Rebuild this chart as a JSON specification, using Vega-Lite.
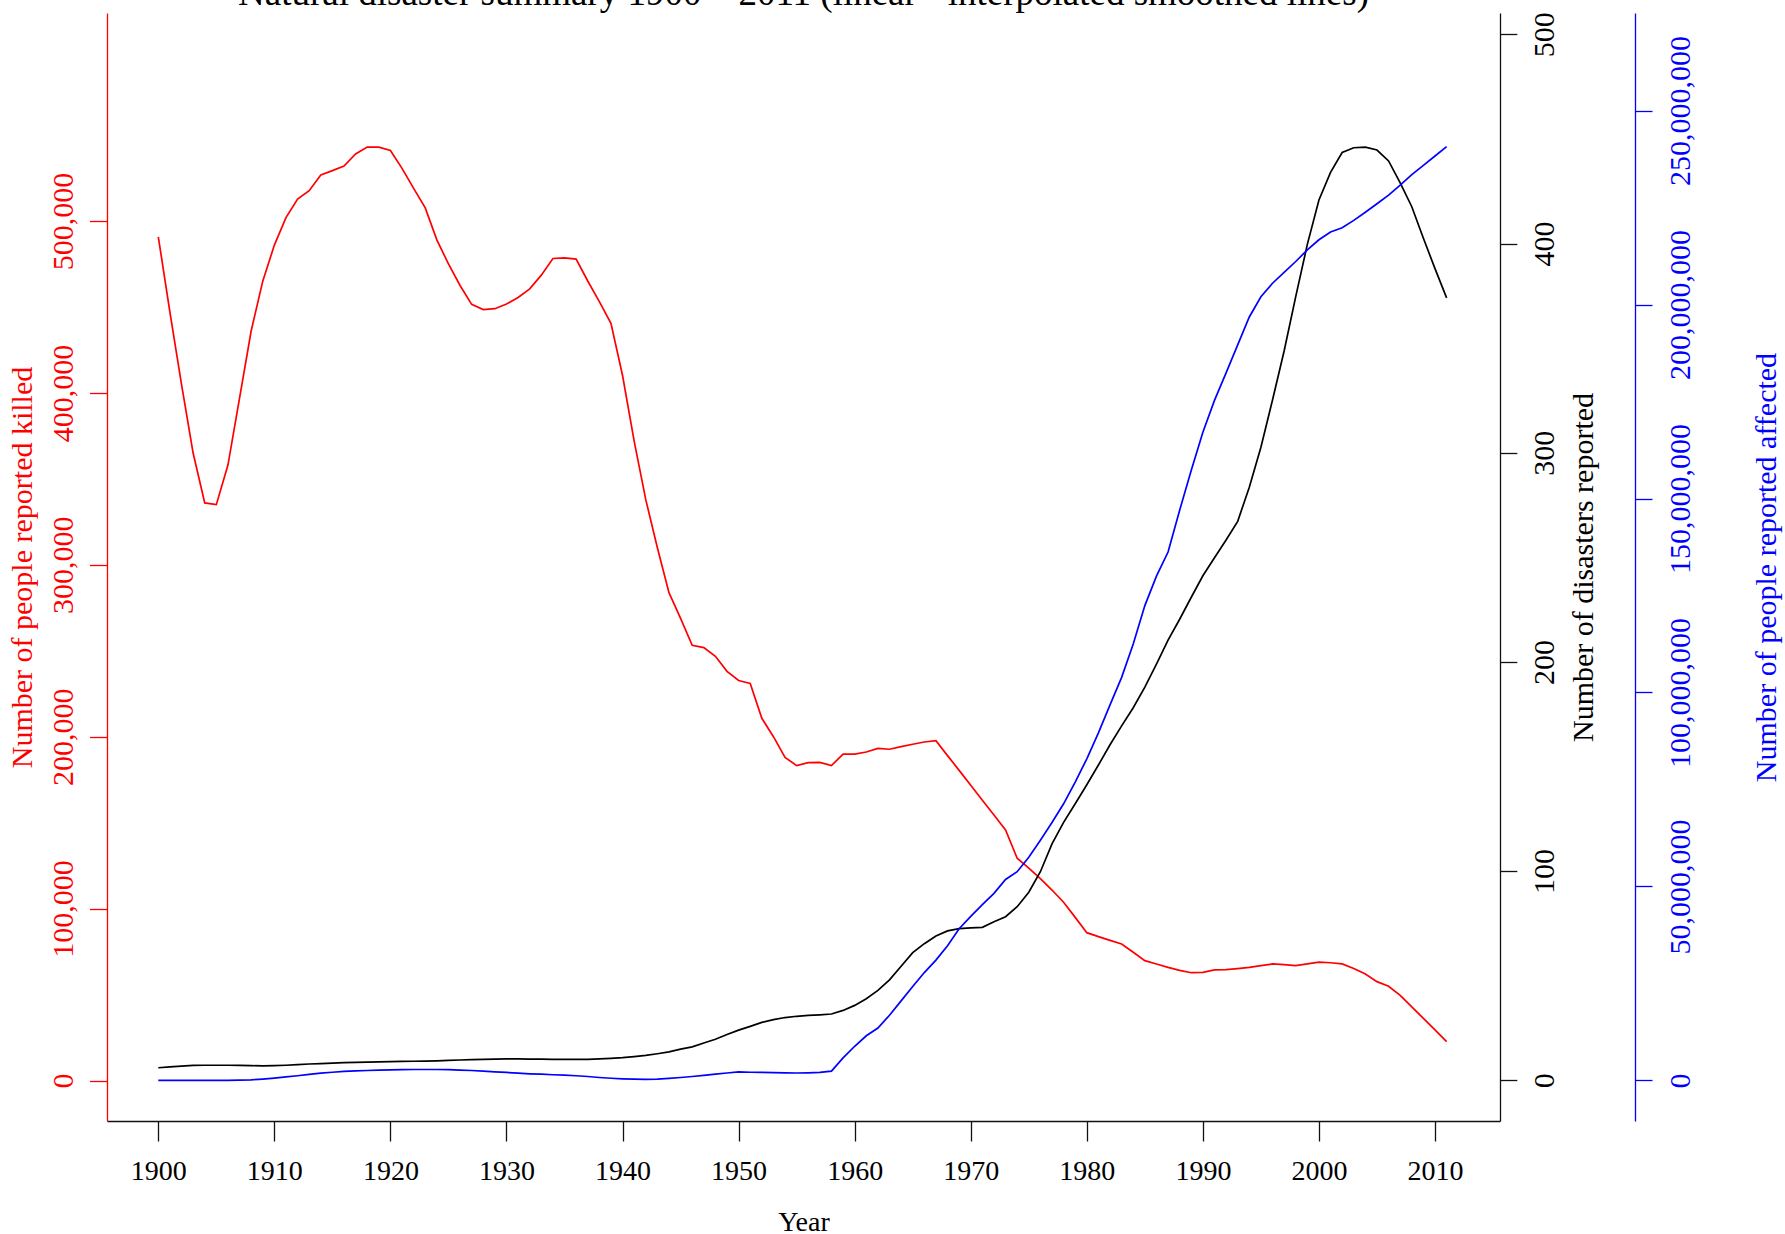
{
  "$schema": "https://vega.github.io/schema/vega-lite/v6.json",
  "width": 1393,
  "height": 1108,
  "autosize": {"type": "none"},
  "padding": {"left": 107, "top": 13, "right": 285, "bottom": 113},
  "background": "white",
  "config": {
    "view": {"stroke": null},
    "axis": {
      "grid": false,
      "labelFont": "Liberation Serif",
      "titleFont": "Liberation Serif",
      "titleFontWeight": "normal",
      "labelOverlap": false,
      "labelFlush": false,
      "labelBound": false,
      "domainWidth": 1.3,
      "tickWidth": 1.3
    }
  },
  "title": {
    "text": "Natural disaster summary 1900 – 2011 (linear - interpolated smoothed lines)",
    "font": "Liberation Serif",
    "fontSize": 37,
    "fontWeight": "normal",
    "color": "#000000",
    "anchor": "middle",
    "frame": "group",
    "orient": "top",
    "baseline": "alphabetic",
    "offset": -30
  },
  "data": {
    "values": [
      {"year": 1900, "killed": 490800, "disasters": 6.0, "affected": 0},
      {"year": 1901, "killed": 447000, "disasters": 6.4, "affected": 0},
      {"year": 1902, "killed": 405000, "disasters": 6.8, "affected": 0},
      {"year": 1903, "killed": 365000, "disasters": 7.1, "affected": 0},
      {"year": 1904, "killed": 336000, "disasters": 7.2, "affected": 0},
      {"year": 1905, "killed": 335000, "disasters": 7.2, "affected": 0},
      {"year": 1906, "killed": 358000, "disasters": 7.2, "affected": 0},
      {"year": 1907, "killed": 397000, "disasters": 7.1, "affected": 50000},
      {"year": 1908, "killed": 436000, "disasters": 7.0, "affected": 150000},
      {"year": 1909, "killed": 465000, "disasters": 6.9, "affected": 350000},
      {"year": 1910, "killed": 486000, "disasters": 7.0, "affected": 600000},
      {"year": 1911, "killed": 502000, "disasters": 7.2, "affected": 900000},
      {"year": 1912, "killed": 512800, "disasters": 7.5, "affected": 1200000},
      {"year": 1913, "killed": 517600, "disasters": 7.8, "affected": 1550000},
      {"year": 1914, "killed": 526800, "disasters": 8.0, "affected": 1850000},
      {"year": 1915, "killed": 529300, "disasters": 8.2, "affected": 2100000},
      {"year": 1916, "killed": 532000, "disasters": 8.4, "affected": 2300000},
      {"year": 1917, "killed": 539000, "disasters": 8.6, "affected": 2450000},
      {"year": 1918, "killed": 543000, "disasters": 8.7, "affected": 2550000},
      {"year": 1919, "killed": 543000, "disasters": 8.8, "affected": 2650000},
      {"year": 1920, "killed": 541000, "disasters": 8.9, "affected": 2700000},
      {"year": 1921, "killed": 530600, "disasters": 9.0, "affected": 2750000},
      {"year": 1922, "killed": 519000, "disasters": 9.1, "affected": 2800000},
      {"year": 1923, "killed": 507600, "disasters": 9.2, "affected": 2800000},
      {"year": 1924, "killed": 489000, "disasters": 9.3, "affected": 2800000},
      {"year": 1925, "killed": 475000, "disasters": 9.5, "affected": 2750000},
      {"year": 1926, "killed": 462500, "disasters": 9.7, "affected": 2650000},
      {"year": 1927, "killed": 451500, "disasters": 9.9, "affected": 2550000},
      {"year": 1928, "killed": 448500, "disasters": 10.0, "affected": 2400000},
      {"year": 1929, "killed": 449000, "disasters": 10.1, "affected": 2200000},
      {"year": 1930, "killed": 451700, "disasters": 10.2, "affected": 2050000},
      {"year": 1931, "killed": 455500, "disasters": 10.2, "affected": 1850000},
      {"year": 1932, "killed": 460500, "disasters": 10.1, "affected": 1700000},
      {"year": 1933, "killed": 468500, "disasters": 10.1, "affected": 1600000},
      {"year": 1934, "killed": 478200, "disasters": 10.0, "affected": 1450000},
      {"year": 1935, "killed": 478600, "disasters": 10.0, "affected": 1350000},
      {"year": 1936, "killed": 477800, "disasters": 10.0, "affected": 1200000},
      {"year": 1937, "killed": 465100, "disasters": 10.0, "affected": 1000000},
      {"year": 1938, "killed": 453100, "disasters": 10.2, "affected": 750000},
      {"year": 1939, "killed": 440500, "disasters": 10.5, "affected": 550000},
      {"year": 1940, "killed": 410100, "disasters": 10.8, "affected": 400000},
      {"year": 1941, "killed": 372000, "disasters": 11.3, "affected": 300000},
      {"year": 1942, "killed": 337900, "disasters": 11.9, "affected": 250000},
      {"year": 1943, "killed": 309900, "disasters": 12.7, "affected": 300000},
      {"year": 1944, "killed": 283800, "disasters": 13.6, "affected": 500000},
      {"year": 1945, "killed": 268800, "disasters": 14.9, "affected": 750000},
      {"year": 1946, "killed": 253200, "disasters": 16.0, "affected": 1000000},
      {"year": 1947, "killed": 251800, "disasters": 17.8, "affected": 1300000},
      {"year": 1948, "killed": 246800, "disasters": 19.6, "affected": 1600000},
      {"year": 1949, "killed": 238000, "disasters": 21.9, "affected": 1900000},
      {"year": 1950, "killed": 232700, "disasters": 24.0, "affected": 2170000},
      {"year": 1951, "killed": 231000, "disasters": 25.8, "affected": 2100000},
      {"year": 1952, "killed": 210700, "disasters": 27.7, "affected": 2050000},
      {"year": 1953, "killed": 200000, "disasters": 29.0, "affected": 2000000},
      {"year": 1954, "killed": 188000, "disasters": 30.0, "affected": 1950000},
      {"year": 1955, "killed": 183200, "disasters": 30.6, "affected": 1900000},
      {"year": 1956, "killed": 184900, "disasters": 31.0, "affected": 1950000},
      {"year": 1957, "killed": 185100, "disasters": 31.3, "affected": 2050000},
      {"year": 1958, "killed": 183200, "disasters": 31.7, "affected": 2400000},
      {"year": 1959, "killed": 189900, "disasters": 33.4, "affected": 5800000},
      {"year": 1960, "killed": 189900, "disasters": 35.8, "affected": 8800000},
      {"year": 1961, "killed": 191100, "disasters": 39.0, "affected": 11500000},
      {"year": 1962, "killed": 193200, "disasters": 43.0, "affected": 13500000},
      {"year": 1963, "killed": 192700, "disasters": 48.0, "affected": 16800000},
      {"year": 1964, "killed": 194200, "disasters": 54.5, "affected": 20500000},
      {"year": 1965, "killed": 195600, "disasters": 61.0, "affected": 24200000},
      {"year": 1966, "killed": 196900, "disasters": 65.3, "affected": 27800000},
      {"year": 1967, "killed": 197700, "disasters": 69.0, "affected": 31000000},
      {"year": 1968, "killed": 189000, "disasters": 71.4, "affected": 34700000},
      {"year": 1969, "killed": 180400, "disasters": 72.5, "affected": 39100000},
      {"year": 1970, "killed": 171700, "disasters": 72.9, "affected": 42300000},
      {"year": 1971, "killed": 163000, "disasters": 73.1, "affected": 45300000},
      {"year": 1972, "killed": 154400, "disasters": 75.8, "affected": 48200000},
      {"year": 1973, "killed": 145700, "disasters": 78.2, "affected": 51800000},
      {"year": 1974, "killed": 129300, "disasters": 83.0, "affected": 53800000},
      {"year": 1975, "killed": 123600, "disasters": 89.9, "affected": 57500000},
      {"year": 1976, "killed": 117400, "disasters": 99.7, "affected": 61900000},
      {"year": 1977, "killed": 110800, "disasters": 113.0, "affected": 66500000},
      {"year": 1978, "killed": 103700, "disasters": 123.3, "affected": 71300000},
      {"year": 1979, "killed": 94900, "disasters": 132.2, "affected": 76900000},
      {"year": 1980, "killed": 86000, "disasters": 141.3, "affected": 82900000},
      {"year": 1981, "killed": 83700, "disasters": 150.7, "affected": 89600000},
      {"year": 1982, "killed": 81500, "disasters": 160.4, "affected": 96800000},
      {"year": 1983, "killed": 79400, "disasters": 169.4, "affected": 103900000},
      {"year": 1984, "killed": 74600, "disasters": 178.1, "affected": 112500000},
      {"year": 1985, "killed": 69700, "disasters": 187.9, "affected": 122400000},
      {"year": 1986, "killed": 67800, "disasters": 198.9, "affected": 130000000},
      {"year": 1987, "killed": 65800, "disasters": 210.4, "affected": 136200000},
      {"year": 1988, "killed": 64100, "disasters": 220.4, "affected": 147000000},
      {"year": 1989, "killed": 62700, "disasters": 230.9, "affected": 157300000},
      {"year": 1990, "killed": 62900, "disasters": 241.2, "affected": 167100000},
      {"year": 1991, "killed": 64300, "disasters": 249.8, "affected": 175300000},
      {"year": 1992, "killed": 64500, "disasters": 258.3, "affected": 182400000},
      {"year": 1993, "killed": 65100, "disasters": 267.2, "affected": 189600000},
      {"year": 1994, "killed": 65800, "disasters": 283.5, "affected": 196800000},
      {"year": 1995, "killed": 66800, "disasters": 302.6, "affected": 202000000},
      {"year": 1996, "killed": 67800, "disasters": 325.2, "affected": 205500000},
      {"year": 1997, "killed": 67400, "disasters": 348.6, "affected": 208300000},
      {"year": 1998, "killed": 66800, "disasters": 374.6, "affected": 211100000},
      {"year": 1999, "killed": 67800, "disasters": 399.6, "affected": 214100000},
      {"year": 2000, "killed": 68900, "disasters": 420.8, "affected": 216700000},
      {"year": 2001, "killed": 68500, "disasters": 434.0, "affected": 218700000},
      {"year": 2002, "killed": 67800, "disasters": 443.5, "affected": 219800000},
      {"year": 2003, "killed": 65200, "disasters": 445.8, "affected": 221700000},
      {"year": 2004, "killed": 62000, "disasters": 446.1, "affected": 223800000},
      {"year": 2005, "killed": 57500, "disasters": 444.7, "affected": 226000000},
      {"year": 2006, "killed": 54800, "disasters": 439.5, "affected": 228200000},
      {"year": 2007, "killed": 49500, "disasters": 429.0, "affected": 230800000},
      {"year": 2008, "killed": 42800, "disasters": 417.6, "affected": 233500000},
      {"year": 2009, "killed": 36100, "disasters": 402.5, "affected": 235900000},
      {"year": 2010, "killed": 29400, "disasters": 388.0, "affected": 238300000},
      {"year": 2011, "killed": 22600, "disasters": 374.0, "affected": 240700000}
    ]
  },
  "encoding": {
    "x": {
      "field": "year",
      "type": "quantitative",
      "scale": {"domain": [1895.58, 2015.6], "nice": false, "zero": false},
      "axis": {
        "values": [1900, 1910, 1920, 1930, 1940, 1950, 1960, 1970, 1980, 1990, 2000, 2010],
        "format": "d",
        "title": "Year",
        "domainColor": "#111111",
        "tickColor": "#111111",
        "tickSize": 20,
        "labelColor": "#000000",
        "labelFontSize": 28,
        "labelBaseline": "alphabetic",
        "labelPadding": 38.5,
        "titleColor": "#000000",
        "titleFontSize": 28,
        "titleBaseline": "alphabetic",
        "titleAlign": "center",
        "titleX": 696.5,
        "titleY": 109
      }
    }
  },
  "layer": [
    {
      "mark": {"type": "line", "color": "#ff0000", "strokeWidth": 1.7, "interpolate": "linear"},
      "encoding": {
        "y": {
          "field": "killed",
          "type": "quantitative",
          "scale": {"domain": [-23560, 621000], "nice": false, "zero": false},
          "axis": {
            "orient": "left",
            "values": [0, 100000, 200000, 300000, 400000, 500000],
            "format": ",.0f",
            "title": "Number of people reported killed",
            "domainColor": "#ff0000",
            "tickColor": "#ff0000",
            "tickSize": 17.5,
            "labelColor": "#ff0000",
            "labelFontSize": 30,
            "labelAngle": 270,
            "labelAlign": "center",
            "labelBaseline": "alphabetic",
            "labelPadding": 16.8,
            "titleColor": "#ff0000",
            "titleFontSize": 30,
            "titleAngle": 270,
            "titleAlign": "center",
            "titleBaseline": "alphabetic",
            "titleX": -76,
            "titleY": 554
          }
        }
      }
    },
    {
      "mark": {"type": "line", "color": "#000000", "strokeWidth": 1.7, "interpolate": "linear"},
      "encoding": {
        "y": {
          "field": "disasters",
          "type": "quantitative",
          "scale": {"domain": [-19.46, 510.2], "nice": false, "zero": false},
          "axis": {
            "orient": "right",
            "values": [0, 100, 200, 300, 400, 500],
            "format": "d",
            "title": "Number of disasters reported",
            "domainColor": "#111111",
            "tickColor": "#111111",
            "tickSize": 16.8,
            "labelColor": "#000000",
            "labelFontSize": 30,
            "labelAngle": 270,
            "labelAlign": "center",
            "labelBaseline": "alphabetic",
            "labelPadding": 36.2,
            "titleColor": "#000000",
            "titleFontSize": 30,
            "titleAngle": 270,
            "titleAlign": "center",
            "titleBaseline": "alphabetic",
            "titleX": 92,
            "titleY": 554
          }
        }
      }
    },
    {
      "mark": {"type": "line", "color": "#0000ff", "strokeWidth": 1.7, "interpolate": "linear"},
      "encoding": {
        "y": {
          "field": "affected",
          "type": "quantitative",
          "scale": {"domain": [-10470000, 275160000], "nice": false, "zero": false},
          "axis": {
            "orient": "right",
            "offset": 135,
            "values": [0, 50000000, 100000000, 150000000, 200000000, 250000000],
            "format": ",.0f",
            "title": "Number of people reported affected",
            "domainColor": "#0000ff",
            "tickColor": "#0000ff",
            "tickSize": 17,
            "labelColor": "#0000ff",
            "labelFontSize": 30,
            "labelAngle": 270,
            "labelAlign": "center",
            "labelBaseline": "alphabetic",
            "labelPadding": 37,
            "titleColor": "#0000ff",
            "titleFontSize": 30,
            "titleAngle": 270,
            "titleAlign": "center",
            "titleBaseline": "alphabetic",
            "titleX": 140,
            "titleY": 554
          }
        }
      }
    }
  ],
  "resolve": {"scale": {"y": "independent"}, "axis": {"y": "independent"}}
}
